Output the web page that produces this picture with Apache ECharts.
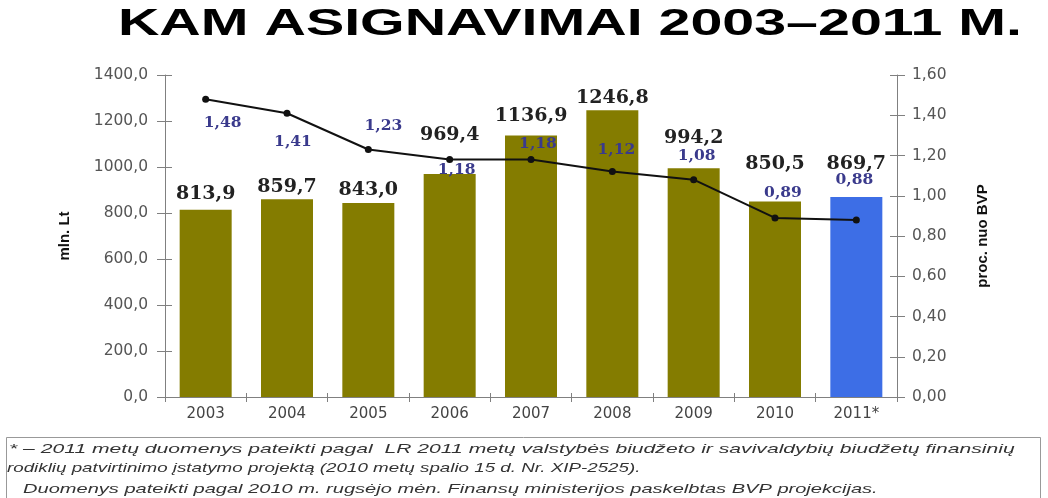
<!DOCTYPE html>
<html><head><meta charset="utf-8">
<script src="https://cdn.jsdelivr.net/npm/echarts@6/dist/echarts.min.js"></script>
<style>html,body{margin:0;padding:0;background:#fff}#c{width:1048px;height:498px}</style>
</head><body><div id="c"></div>
<script>
const categories = ['2003','2004','2005','2006','2007','2008','2009','2010','2011*'];
const funding = [813.9, 859.7, 843.0, 969.4, 1136.9, 1246.8, 994.2, 850.5, 869.7];
const gdpShare = [1.48, 1.41, 1.23, 1.18, 1.18, 1.12, 1.08, 0.89, 0.88];
const titleText = 'KAM ASIGNAVIMAI 2003\u20132011 M.';
const leftAxisName = 'mln. Lt';
const rightAxisName = 'proc. nuo BVP';
const footnotes = [
  '* \u2013 2011 met\u0173 duomenys pateikti pagal  LR 2011 met\u0173 valstyb\u0117s biud\u017eeto ir savivaldybi\u0173 biud\u017eet\u0173 finansini\u0173',
  'rodikli\u0173 patvirtinimo \u012fstatymo projekt\u0105 (2010 met\u0173 spalio 15 d. Nr. XIP-2525).',
  'Duomenys pateikti pagal 2010 m. rugs\u0117jo m\u0117n. Finans\u0173 ministerijos paskelbtas BVP projekcijas.'
];

// label styling (not data)
const barLabelDist = [6, 3, 4, 29, 10, 3, 21, 28, 23];
const lineLabelPos = ['bottom','bottom','top','bottom','top','top','top','top','top'];
const lineLabelDist = [12, 17, 12, -1, 4, 10, 12, 13, 28];
const lineLabelDx = [17, 6, 15, 7, 7, 4, 3, 8, -2];
const footStyle = [{x: 9, y: 449, sx: 1.565}, {x: 7, y: 468, sx: 1.39}, {x: 23, y: 489, sx: 1.485}];
const olive = '#847c00', blue = '#3d6ee6', axisGray = '#808080';

const tickAxisY = (min, max, interval, position) => ({
  type: 'value', min, max, interval, position,
  axisLine: { show: false }, axisLabel: { show: false }, splitLine: { show: false },
  axisTick: { show: true, inside: true, length: 7, lineStyle: { color: axisGray } }
});

const chart = echarts.init(document.getElementById('c'));
chart.setOption({
  animation: false,
  grid: { left: 165, right: 151, top: 75, bottom: 101 },
  xAxis: [
    { type: 'category', data: categories,
      axisLine: { lineStyle: { color: axisGray } }, axisTick: { show: true, length: 5, lineStyle: { color: axisGray } },
      axisLabel: { color: '#444', fontFamily: 'DejaVu Sans', fontSize: 15, margin: 10 } },
    { type: 'category', data: categories, position: 'bottom',
      axisLine: { show: false }, axisLabel: { show: false },
      axisTick: { show: true, inside: true, length: 4, lineStyle: { color: axisGray } } }
  ],
  yAxis: [
    { type: 'value', min: 0, max: 1400, interval: 200, name: leftAxisName, nameLocation: 'middle', nameGap: 93, nameRotate: 90,
      nameTextStyle: { fontFamily: 'Liberation Sans Narrow, Liberation Sans', fontWeight: 'bold', fontSize: 15, color: '#111' },
      axisLine: { show: true, lineStyle: { color: axisGray } }, axisTick: { show: true, length: 8, lineStyle: { color: axisGray } },
      splitLine: { show: false },
      axisLabel: { color: '#555', fontFamily: 'DejaVu Sans', fontSize: 15.5, margin: 17, formatter: v => v.toFixed(1).replace('.', ',') } },
    { type: 'value', min: 0, max: 1.6, interval: 0.2, name: rightAxisName, nameLocation: 'middle', nameGap: 78, nameRotate: 90,
      nameTextStyle: { fontFamily: 'Liberation Sans Narrow, Liberation Sans', fontWeight: 'bold', fontSize: 15, color: '#111' },
      axisLine: { show: true, lineStyle: { color: axisGray } }, axisTick: { show: true, length: 8, lineStyle: { color: axisGray } },
      splitLine: { show: false },
      axisLabel: { color: '#555', fontFamily: 'DejaVu Sans', fontSize: 15.5, margin: 15, formatter: v => v.toFixed(2).replace('.', ',') } },
    tickAxisY(0, 1400, 200, 'left'),
    tickAxisY(0, 1.6, 0.2, 'right')
  ],
  series: [
    { type: 'bar', yAxisIndex: 0, barWidth: 52,
      data: funding.map((v, i) => ({ value: v,
        itemStyle: { color: i === funding.length - 1 ? blue : olive },
        label: { distance: barLabelDist[i] } })),
      label: { show: true, position: 'top', fontFamily: 'DejaVu Serif', fontWeight: 'bold', fontSize: 19, color: '#222',
        formatter: p => p.value.toFixed(1).replace('.', ',') } },
    { type: 'line', yAxisIndex: 1, symbol: 'circle', symbolSize: 7, z: 5,
      lineStyle: { color: '#111', width: 2 }, itemStyle: { color: '#111' },
      data: gdpShare.map((v, i) => ({ value: v,
        label: { position: lineLabelPos[i], distance: lineLabelDist[i], offset: [lineLabelDx[i], 0] } })),
      label: { show: true, fontFamily: 'DejaVu Serif', fontWeight: 'bold', fontSize: 15.5, color: '#3a3a8c',
        formatter: p => p.value.toFixed(2).replace('.', ',') } }
  ],
  graphic: [
    { type: 'text', x: 570, y: 6, scaleX: 1.55,
      style: { text: titleText, textAlign: 'center', textVerticalAlign: 'top',
        fontFamily: 'Liberation Sans', fontWeight: 'bold', fontSize: 37, fill: '#000' } },
    { type: 'rect', shape: { x: 6.5, y: 437.5, width: 1034, height: 62 }, style: { fill: '#fff', stroke: '#999', lineWidth: 1 } }
  ].concat(footnotes.map((t, i) => ({
    type: 'text', x: footStyle[i].x, y: footStyle[i].y, scaleX: footStyle[i].sx,
    style: { text: t, textVerticalAlign: 'middle', fontFamily: 'Liberation Sans', fontStyle: 'italic', fontSize: 13.5, fill: '#333' }
  })))
});
</script></body></html>
